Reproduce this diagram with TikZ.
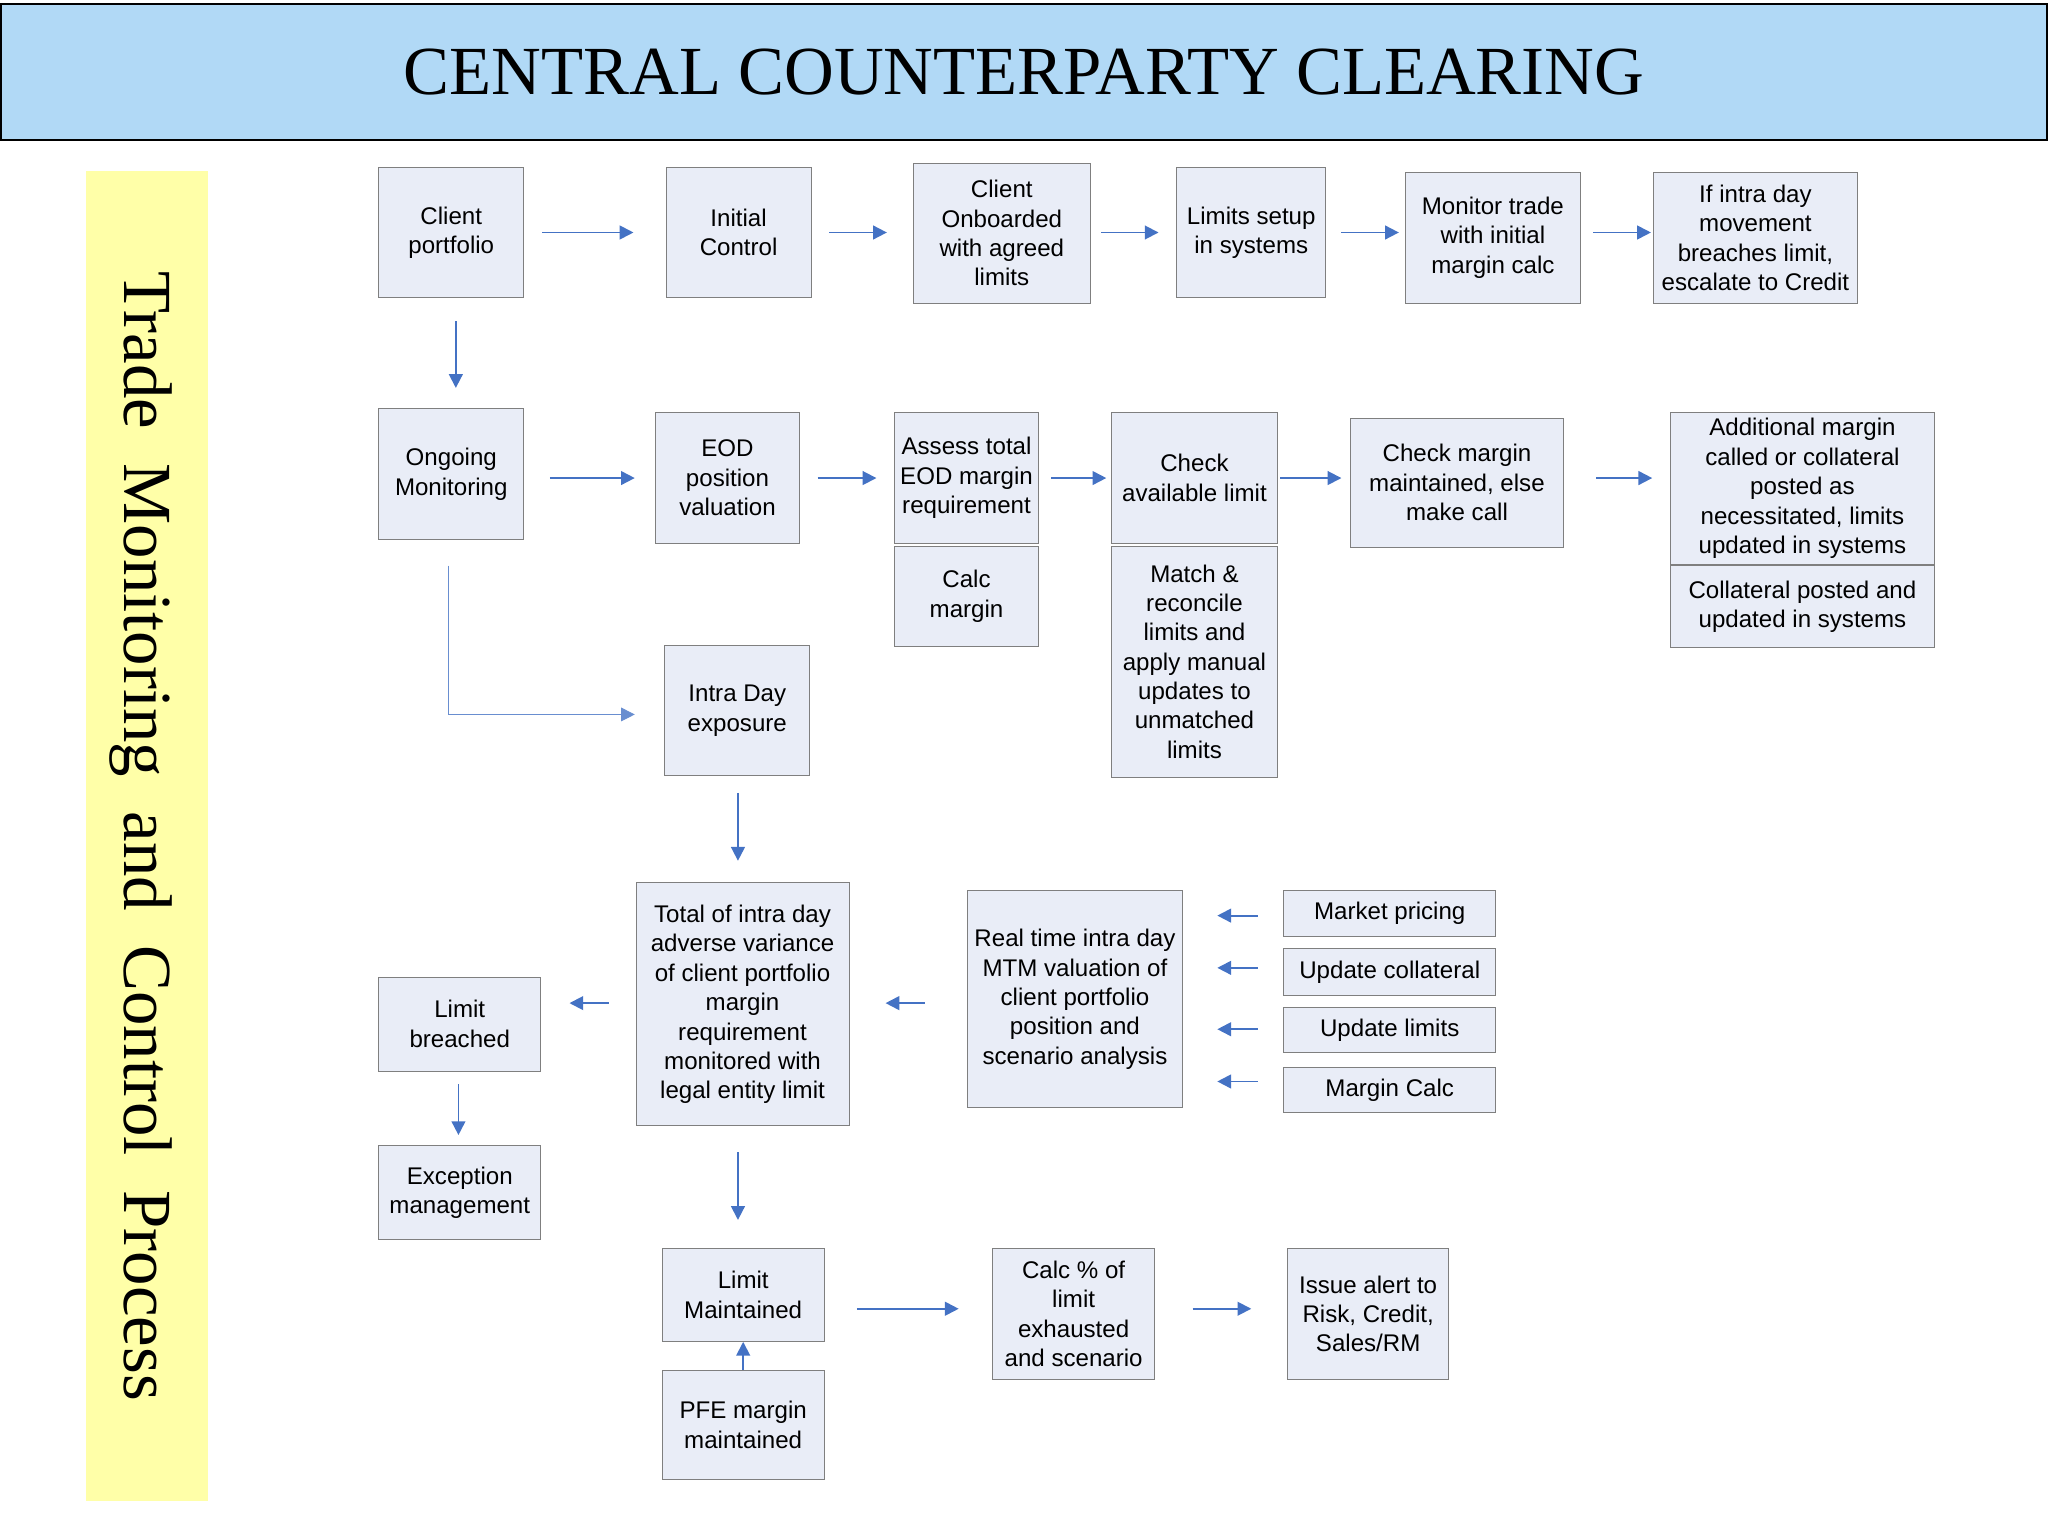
\documentclass[tikz,border=0pt]{standalone}
\usepackage{fontspec}
\setmainfont{Liberation Sans}
\newfontfamily\serifft{Liberation Serif}
\usetikzlibrary{arrows.meta}
\definecolor{boxfill}{HTML}{E9EDF7}
\definecolor{boxline}{HTML}{7F7F7F}
\definecolor{arr}{HTML}{4472C4}
\definecolor{head}{HTML}{B1D9F6}
\definecolor{band}{HTML}{FFFFA8}
\tikzset{
 box/.style={draw=boxline,fill=boxfill,align=center,inner sep=0pt,font=\fontsize{10.5}{12.8}\selectfont},
 ar/.style={draw=arr,line width=0.8pt,-{Triangle[length=6pt,width=6pt]}},
}
\newcommand\bx[6]{\node[box,minimum width={(#4-#2)*0.2mm},minimum height={(#5-#3)*0.2mm}] (#1) at ({(#2+#4)/2},{(#3+#5)/2}) {#6};}
\newcommand\arw[5]{\coordinate (#1a) at (#2,#3); \coordinate (#1b) at (#4,#5); \draw[ar] (#1a) -- (#1b);}
\begin{document}
\begin{tikzpicture}[x=0.2mm,y=-0.2mm]
\useasboundingbox (0,0) rectangle (1568,1176);
\node[draw=black,line width=0.8pt,fill=head,minimum width=1566*0.2mm,minimum height=104*0.2mm,inner sep=0pt,font=\serifft\fontsize{30}{34}\selectfont] (title) at (784,55) {CENTRAL COUNTERPARTY CLEARING};
\node[fill=band,minimum width=93*0.2mm,minimum height=1018*0.2mm,inner sep=0pt] (band) at (112.5,640) {};
\node[rotate=-90,font=\serifft\fontsize{30}{32}\selectfont] (side) at (108,640) {Trade\ \ Monitoring\ \ and\ \ Control\ \ Process};
\bx{cp}{290}{128}{401}{228}{Client\\portfolio}
\bx{ic}{510}{128}{621}{228}{Initial\\Control}
\bx{co}{699}{125}{835}{232}{Client\\Onboarded\\with agreed\\limits}
\bx{ls}{901}{128}{1015}{228}{Limits setup\\in systems}
\bx{mt}{1076}{132}{1210}{232}{Monitor trade\\with initial\\margin calc}
\bx{id}{1266}{132}{1422}{232}{If intra day\\movement\\breaches limit,\\escalate to Credit}
\bx{om}{290}{313}{401}{413}{Ongoing\\Monitoring}
\bx{eod}{502}{316}{612}{416}{EOD\\position\\valuation}
\bx{at}{685}{316}{795}{416}{Assess total\\EOD margin\\requirement}
\bx{cm}{685}{418}{795}{495}{Calc\\margin}
\bx{ca}{851}{316}{978}{416}{Check\\available limit}
\bx{mr}{851}{418}{978}{595}{Match \&\\reconcile\\limits and\\apply manual\\updates to\\unmatched\\limits}
\bx{cmm}{1034}{320}{1197}{419}{Check margin\\maintained, else\\make call}
\bx{am}{1279}{316}{1481}{432}{Additional margin\\called or collateral\\posted as\\necessitated, limits\\updated in systems}
\bx{cpu}{1279}{433}{1481}{496}{Collateral posted and\\updated in systems}
\bx{ide}{509}{494}{620}{594}{Intra Day\\exposure}
\bx{tot}{487}{676}{650}{862}{Total of intra day\\adverse variance\\of client portfolio\\margin\\requirement\\monitored with\\legal entity limit}
\bx{rt}{741}{682}{905}{848}{Real time intra day\\MTM valuation of\\client portfolio\\position and\\scenario analysis}
\bx{mp}{983}{682}{1145}{717}{Market pricing}
\bx{uc}{983}{726}{1145}{762}{Update collateral}
\bx{ul}{983}{771}{1145}{806}{Update limits}
\bx{mc}{983}{817}{1145}{852}{Margin Calc}
\bx{lb}{290}{748}{414}{820}{Limit\\breached}
\bx{em}{290}{877}{414}{949}{Exception\\management}
\bx{lm}{507}{956}{631}{1027}{Limit\\Maintained}
\bx{pfe}{507}{1049}{631}{1133}{PFE margin\\maintained}
\bx{cpl}{760}{956}{884}{1056}{Calc \% of\\limit\\exhausted\\and scenario}
\bx{ia}{986}{956}{1109}{1056}{Issue alert to\\Risk, Credit,\\Sales/RM}
\arw{a1}{415}{178}{485}{178}
\arw{a2}{635}{178}{679}{178}
\arw{a3}{843}{178}{887}{178}
\arw{a4}{1027}{178}{1071}{178}
\arw{a5}{1220}{178}{1264}{178}
\arw{a6}{349}{246}{349}{297}
\arw{a7}{421}{366}{486}{366}
\arw{a8}{626}{366}{671}{366}
\arw{a9}{805}{366}{847}{366}
\arw{a10}{980}{366}{1027}{366}
\arw{a11}{1222}{366}{1265}{366}
\coordinate (l1) at (343,433); \coordinate (l2) at (343,547); \coordinate (l3) at (486,547);
\draw[draw=arr!80,line width=0.4pt,-{Triangle[length=6pt,width=6pt]}] (l1) -- (l2) -- (l3);
\arw{a12}{565}{607}{565}{659}
\arw{a13}{466}{768}{436}{768}
\arw{a14}{708}{768}{678}{768}
\arw{a15}{963}{701}{932}{701}
\arw{a16}{963}{741}{932}{741}
\arw{a17}{963}{788}{932}{788}
\arw{a18}{963}{828}{932}{828}
\arw{a19}{351}{830}{351}{869}
\arw{a20}{565}{882}{565}{934}
\draw[ar] (pfe.north) -- (lm.south);
\arw{a21}{656}{1002}{734}{1002}
\arw{a22}{913}{1002}{958}{1002}
\end{tikzpicture}
\end{document}
